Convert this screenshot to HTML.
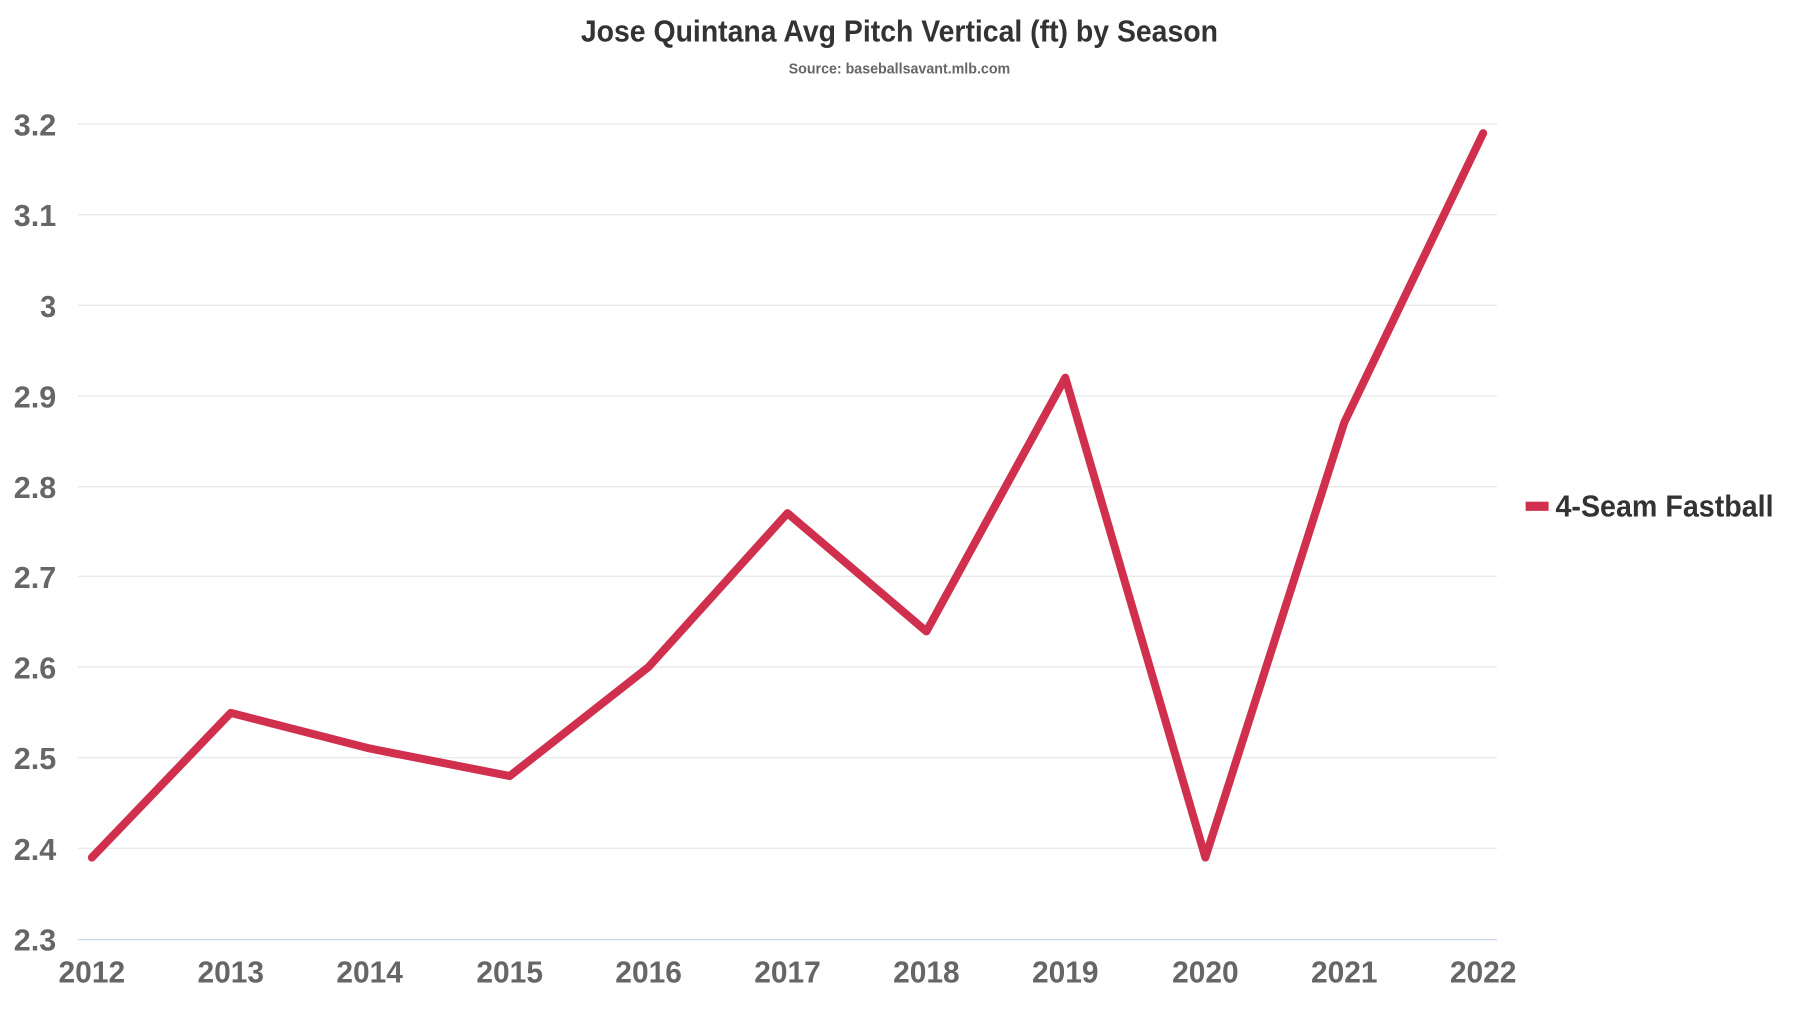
<!DOCTYPE html>
<html><head><meta charset="utf-8"><style>
html,body{margin:0;padding:0;background:#fff;}
svg{display:block;}
text{font-family:"Liberation Sans Narrow","Liberation Sans",sans-serif;font-weight:bold;}
</style></head><body>
<svg width="1800" height="1013" viewBox="0 0 1568 882.4" xmlns="http://www.w3.org/2000/svg">
<text x="506" y="36" textLength="555" lengthAdjust="spacingAndGlyphs" font-size="27" fill="#333">Jose Quintana Avg Pitch Vertical (ft) by Season</text>
<text x="687" y="64" textLength="193" lengthAdjust="spacingAndGlyphs" font-size="13" fill="#666">Source: baseballsavant.mlb.com</text>
<g stroke="#e6e6e6" stroke-width="1">
<line x1="68" x2="1304" y1="108" y2="108"/>
<line x1="68" x2="1304" y1="187" y2="187"/>
<line x1="68" x2="1304" y1="266" y2="266"/>
<line x1="68" x2="1304" y1="345" y2="345"/>
<line x1="68" x2="1304" y1="424" y2="424"/>
<line x1="68" x2="1304" y1="502" y2="502"/>
<line x1="68" x2="1304" y1="581" y2="581"/>
<line x1="68" x2="1304" y1="660" y2="660"/>
<line x1="68" x2="1304" y1="739" y2="739"/>
</g>
<line x1="68" x2="1304" y1="818.5" y2="818.5" stroke="#ccd6eb" stroke-width="1"/>
<g font-size="27" fill="#666" lengthAdjust="spacingAndGlyphs">
<text x="12" y="118" textLength="37" lengthAdjust="spacingAndGlyphs">3.2</text>
<text x="12" y="197" textLength="37" lengthAdjust="spacingAndGlyphs">3.1</text>
<text x="35" y="276" textLength="14" lengthAdjust="spacingAndGlyphs">3</text>
<text x="12" y="355" textLength="37" lengthAdjust="spacingAndGlyphs">2.9</text>
<text x="12" y="434" textLength="37" lengthAdjust="spacingAndGlyphs">2.8</text>
<text x="12" y="512" textLength="37" lengthAdjust="spacingAndGlyphs">2.7</text>
<text x="12" y="591" textLength="37" lengthAdjust="spacingAndGlyphs">2.6</text>
<text x="12" y="670" textLength="37" lengthAdjust="spacingAndGlyphs">2.5</text>
<text x="12" y="749" textLength="37" lengthAdjust="spacingAndGlyphs">2.4</text>
<text x="12" y="828" textLength="37" lengthAdjust="spacingAndGlyphs">2.3</text>
</g>
<g font-size="27" fill="#666">
<text x="51" y="856" textLength="58" lengthAdjust="spacingAndGlyphs">2012</text>
<text x="172" y="856" textLength="58" lengthAdjust="spacingAndGlyphs">2013</text>
<text x="293" y="856" textLength="58" lengthAdjust="spacingAndGlyphs">2014</text>
<text x="415" y="856" textLength="58" lengthAdjust="spacingAndGlyphs">2015</text>
<text x="536" y="856" textLength="58" lengthAdjust="spacingAndGlyphs">2016</text>
<text x="657" y="856" textLength="58" lengthAdjust="spacingAndGlyphs">2017</text>
<text x="778" y="856" textLength="58" lengthAdjust="spacingAndGlyphs">2018</text>
<text x="899" y="856" textLength="58" lengthAdjust="spacingAndGlyphs">2019</text>
<text x="1021" y="856" textLength="58" lengthAdjust="spacingAndGlyphs">2020</text>
<text x="1142" y="856" textLength="58" lengthAdjust="spacingAndGlyphs">2021</text>
<text x="1263" y="856" textLength="58" lengthAdjust="spacingAndGlyphs">2022</text>
</g>
<polyline fill="none" stroke="#d0304e" stroke-width="7" stroke-linejoin="round" stroke-linecap="round"
points="80,747 201,621 322,652 444,676 565,581 686,447 807,550 928,329 1050,747 1171,368 1292,116"/>
<rect x="1329" y="437" width="20" height="8" fill="#d0304e"/>
<text x="1355" y="450" textLength="190" lengthAdjust="spacingAndGlyphs" font-size="27" fill="#333">4-Seam Fastball</text>
</svg>
</body></html>
